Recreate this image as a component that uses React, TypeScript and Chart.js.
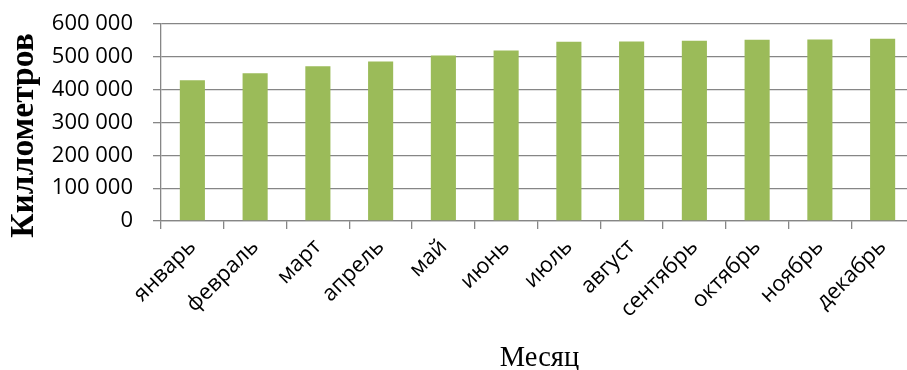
import React, { useEffect, useRef } from "react";
import { Chart, registerables } from "chart.js";

Chart.register(...registerables);

// Monthly distance, kilometres
const months = [
  "январь",
  "февраль",
  "март",
  "апрель",
  "май",
  "июнь",
  "июль",
  "август",
  "сентябрь",
  "октябрь",
  "ноябрь",
  "декабрь",
];

const kilometres = [
  429000, 450000, 471000, 486000, 504000, 519000,
  546000, 547000, 549000, 552000, 553000, 555000,
];

const yTitle = "Киллометров";
const xTitle = "Месяц";

const BAR_COLOR = "#9BBB59";
const LINE_COLOR = "#868686";
const SANS = "'Open Sans', sans-serif";
const SERIF = "'Liberation Serif', 'Times New Roman', serif";

const fmt = (v: number) =>
  String(Math.round(v)).replace(/\B(?=(\d{3})+(?!\d))/g, " ");

// Axis titles: bold vertical one on the left, plain one under the month labels
const axisTitlesPlugin = {
  id: "axisTitles",
  afterDraw(chart: any) {
    const { ctx, chartArea } = chart;
    ctx.save();
    ctx.fillStyle = "#000";
    ctx.textAlign = "center";
    ctx.textBaseline = "alphabetic";

    ctx.save();
    ctx.translate(33, (chartArea.top + chartArea.bottom) / 2 + 13);
    ctx.rotate(-Math.PI / 2);
    ctx.font = `bold 33.5px ${SERIF}`;
    ctx.fillText(yTitle, 0, 0);
    ctx.restore();

    ctx.font = `28.5px ${SERIF}`;
    ctx.fillText(xTitle, (chartArea.left + chartArea.right) / 2 + 2, 366);
    ctx.restore();
  },
};

export default function App() {
  const canvasRef = useRef<HTMLCanvasElement | null>(null);

  useEffect(() => {
    const canvas = canvasRef.current;
    if (!canvas) return;
    const chart = new Chart(canvas, {
      type: "bar",
      data: {
        labels: months,
        datasets: [
          {
            data: kilometres,
            backgroundColor: BAR_COLOR,
            borderWidth: 0,
            barPercentage: 0.4,
            categoryPercentage: 1,
          },
        ],
      },
      plugins: [axisTitlesPlugin],
      options: {
        responsive: false,
        animation: false,
        devicePixelRatio: 1,
        layout: { padding: { top: 24, right: 1, left: 0, bottom: 0 } },
        plugins: {
          legend: { display: false },
          tooltip: { enabled: false },
        },
        scales: {
          x: {
            grid: {
              drawOnChartArea: false,
              drawTicks: true,
              tickLength: 8,
              color: LINE_COLOR,
              lineWidth: 1.3,
            },
            border: { color: LINE_COLOR, width: 1.3 },
            ticks: {
              color: "#000",
              font: { family: SANS, size: 22 },
              minRotation: 45,
              maxRotation: 45,
              padding: 5,
              autoSkip: false,
            },
            afterFit: (scale: any) => {
              scale.height = 149;
            },
          },
          y: {
            min: 0,
            max: 600000,
            ticks: {
              stepSize: 100000,
              autoSkip: false,
              color: "#000",
              font: { family: SANS, size: 22 },
              padding: 20,
              callback: (v: any) => fmt(Number(v)),
            },
            grid: {
              color: LINE_COLOR,
              lineWidth: 1.3,
              tickLength: 8,
            },
            border: { color: LINE_COLOR, width: 1.3 },
            afterFit: (scale: any) => {
              scale.width = 161;
              scale.paddingTop = 0;
              scale.paddingBottom = 0;
            },
          },
        },
      },
    });
    return () => chart.destroy();
  }, []);

  return (
    <div
      style={{
        position: "absolute",
        left: 0,
        top: 0,
        width: 907,
        height: 370,
        overflow: "hidden",
        background: "#fff",
      }}
    >
      <canvas ref={canvasRef} width={915} height={370} />
    </div>
  );
}
